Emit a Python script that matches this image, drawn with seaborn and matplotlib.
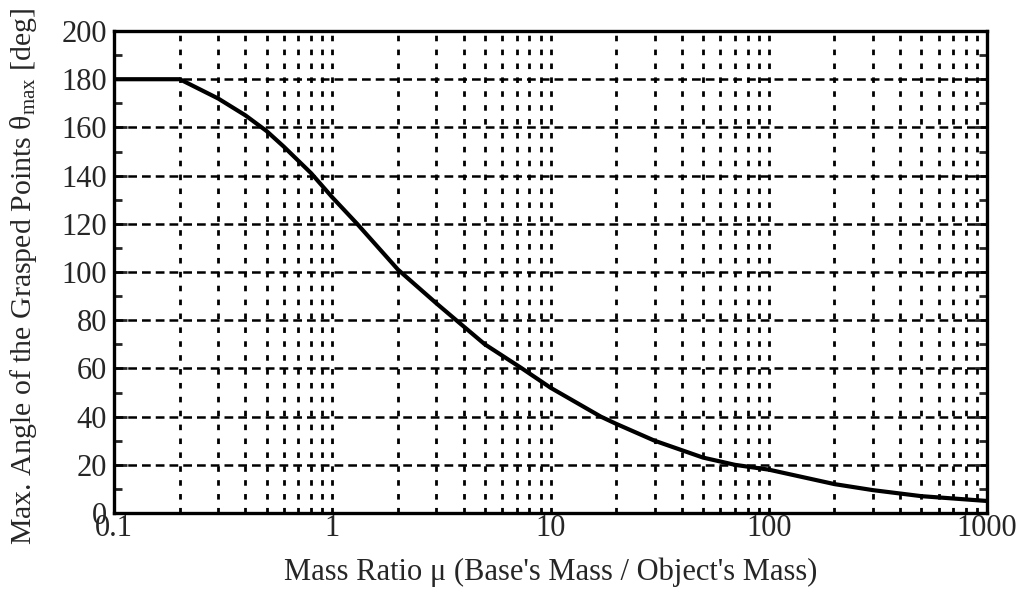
import numpy as np
import pandas as pd
import matplotlib
matplotlib.use("Agg")
import matplotlib.pyplot as plt
import seaborn as sns
from matplotlib.ticker import FixedLocator, NullFormatter, FixedFormatter

# data
mass_ratio = [0.1, 0.2, 0.3, 0.4, 0.5, 0.6, 0.8, 1, 1.3, 2, 3, 3.7, 5, 7.4, 10,
              17, 20, 30, 50, 70, 100, 200, 300, 500, 1000]
theta_max = [180, 180, 172, 165, 158.5, 152, 141, 131, 120, 101, 87, 80, 70, 60, 52,
             40, 37, 30, 23, 20, 18, 12, 9.5, 7, 5]
x_ticks = [0.1, 1, 10, 100, 1000]
x_tick_labels = ["0.1", "1", "10", "100", "1000"]
y_ticks = [0, 20, 40, 60, 80, 100, 120, 140, 160, 180, 200]

sns.set_style("white")
plt.rcParams['font.family'] = ['Liberation Serif', 'DejaVu Serif']
plt.rcParams['mathtext.fontset'] = 'stix'

df = pd.DataFrame({"mu": mass_ratio, "theta": theta_max})

fig = plt.figure(figsize=(10.19, 5.92), dpi=100)
ax = fig.add_axes([0.1119, 0.1334, 0.8567, 0.8142])

ax.set_xscale("log")
ax.set_xlim(0.1, 1000)
ax.set_ylim(0, 200)

# grids
minor_x = []
for dec in [0.1, 1, 10, 100]:
    for k in range(1, 10):
        minor_x.append(dec * k)
for xv in minor_x[1:]:
    ax.axvline(xv, color="black", lw=2.0, ls=(0, (2.0, 3.0)), zorder=1)
for yv in y_ticks[1:-1]:
    ax.axhline(yv, color="black", lw=1.8, ls=(0, (3.5, 2.0)), zorder=1)

sns.lineplot(data=df, x="mu", y="theta", ax=ax, color="black", lw=3.0, zorder=3)

ax.xaxis.set_major_locator(FixedLocator(x_ticks))
ax.xaxis.set_major_formatter(FixedFormatter(x_tick_labels))
ax.xaxis.set_minor_formatter(NullFormatter())
ax.set_yticks(y_ticks)
ax.set_yticks(np.arange(10, 200, 20), minor=True)
ax.tick_params(axis="x", which="both", length=0, labelsize=22, pad=1)
ax.tick_params(axis="y", which="major", direction="in", length=9, width=2,
               left=True, right=True, labelsize=22, pad=5)
ax.tick_params(axis="y", which="minor", direction="in", length=6, width=2,
               left=True, right=True)

for s in ax.spines.values():
    s.set_color("black")
    s.set_linewidth(2.4)

ax.set_xlabel("Mass Ratio μ (Base's Mass / Object's Mass)", fontsize=22, labelpad=10)
ax.set_ylabel(r"Max. Angle of the Grasped Points $\mathregular{\theta_{max}}$ [deg]",
              fontsize=21.5)
ax.yaxis.set_label_coords(-0.086, 0.49)

fig.savefig("out.png", dpi=100)
